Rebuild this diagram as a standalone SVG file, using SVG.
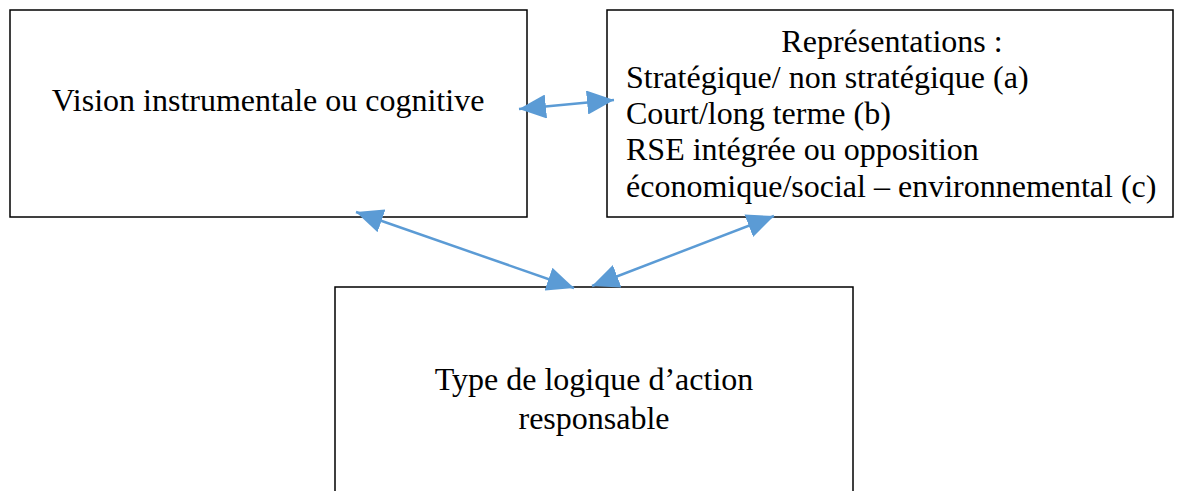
<svg xmlns="http://www.w3.org/2000/svg" width="1179" height="491" viewBox="0 0 1179 491">
  <style>
    .box { fill: #ffffff; stroke: #000000; stroke-width: 1.5; }
    .label { font-family: "Liberation Serif", "Times New Roman", serif; font-size: 32px; fill: #000000; }
    .link { stroke: #5B9BD5; stroke-width: 2.5; fill: none; marker-start: url(#head); marker-end: url(#head); }
  </style>
  <defs>
    <!-- filled triangular arrowhead, reused at both ends of every link -->
    <marker id="head" viewBox="0 0 27 24" refX="27" refY="12" markerWidth="27" markerHeight="24" markerUnits="userSpaceOnUse" orient="auto-start-reverse">
      <path d="M0,0 L27,12 L0,24 Z" fill="#5B9BD5"/>
    </marker>
  </defs>
  <rect width="1179" height="491" fill="#ffffff"/>

  <g id="node-vision">
    <rect class="box" x="10" y="10" width="517" height="207"/>
    <text class="label" x="268" y="111" text-anchor="middle">Vision instrumentale ou cognitive</text>
  </g>

  <g id="node-representations">
    <rect class="box" x="607" y="10" width="566" height="207"/>
    <text class="label" x="892" y="52" text-anchor="middle">Représentations :</text>
    <text class="label" x="626" y="88">Stratégique/ non stratégique (a)</text>
    <text class="label" x="626" y="124">Court/long terme (b)</text>
    <text class="label" x="626" y="160">RSE intégrée ou opposition</text>
    <text class="label" x="626" y="197">économique/social – environnemental (c)</text>
  </g>

  <g id="node-logique">
    <rect class="box" x="335" y="287" width="518" height="220"/>
    <text class="label" x="594" y="390" text-anchor="middle">Type de logique d’action</text>
    <text class="label" x="594" y="429" text-anchor="middle">responsable</text>
  </g>

  <g id="connectors">
    <line class="link" x1="519" y1="109" x2="614" y2="100"/>
    <line class="link" x1="356" y1="212" x2="574" y2="288"/>
    <line class="link" x1="592" y1="286" x2="774" y2="216"/>
  </g>
</svg>
